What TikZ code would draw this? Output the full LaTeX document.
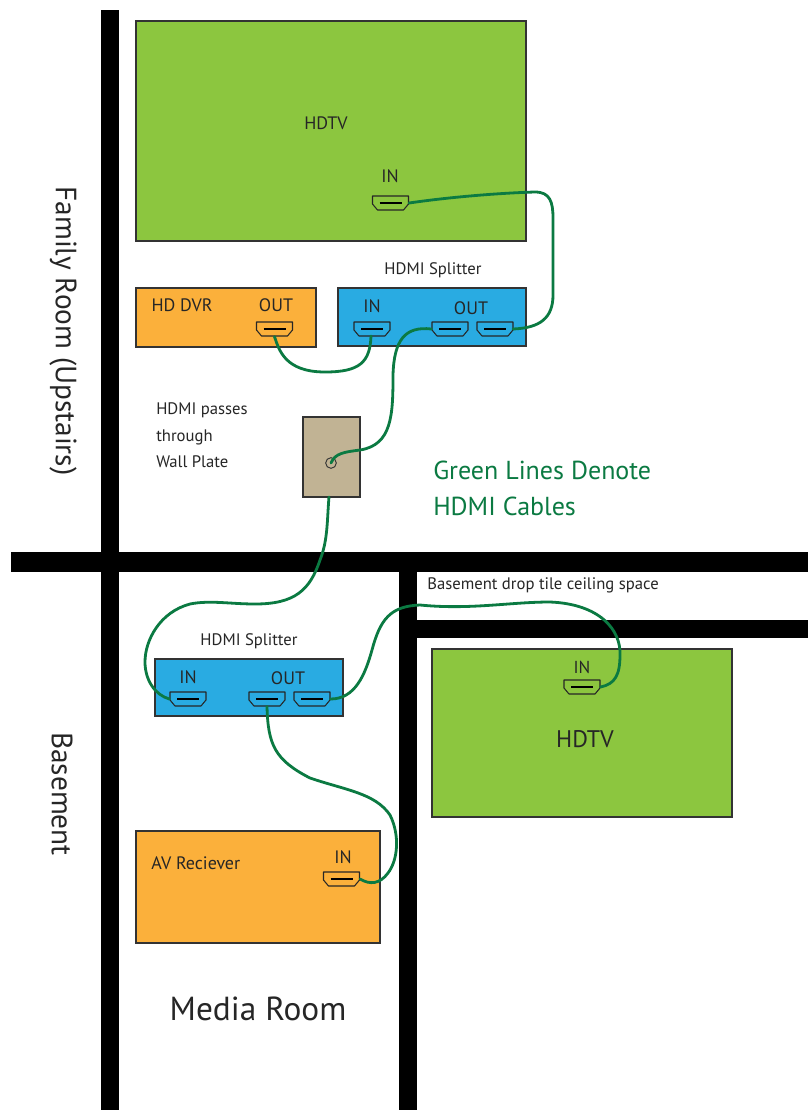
\documentclass[tikz,border=0pt]{standalone}
\usepackage{fontspec}
\setmainfont{PT Sans}
\definecolor{tvgreen}{HTML}{8CC63F}
\definecolor{dvrorange}{HTML}{FBB03B}
\definecolor{splitblue}{HTML}{29ABE2}
\definecolor{plate}{HTML}{C1B394}
\definecolor{cable}{HTML}{0B7A42}
\definecolor{edge}{HTML}{333333}
\tikzset{
  devbox/.style={draw=edge,line width=2pt,inner sep=0pt},
  wall/.style={fill=black,draw=none},
  cablewire/.style={draw=cable,line width=2.1pt,line cap=round},
  portbox/.style={inner sep=0pt,minimum width=27.5pt,minimum height=11pt},
  portline/.style={draw=black!85,line width=0.8pt,line join=round},
  slot/.style={draw=black,line width=1.3pt},
  txt/.style={inner sep=0pt,text=black!85},
}
\newcommand{\hdmiport}[3]{%
  \node[portbox] (#1) at (#2,#3) {};
  \draw[portline,shift={(#1.center)}] (-18,-7) -- (18,-7) -- (18,1) -- (13,7) -- (-13,7) -- (-18,1) -- cycle;
  \draw[slot,shift={(#1.center)}] (-11,0) -- (11,0);
}
\newcommand{\devbox}[6]{% name x1 y1 x2 y2 fill
  \path[devbox,fill=#6] (#2,#3) rectangle (#4,#5);
  \coordinate (#1) at (#2,#3);
}
\begin{document}
\begin{tikzpicture}[x=0.75pt,y=-0.75pt]
\useasboundingbox (0,0) rectangle (808,1110);
\fill[white] (0,0) rectangle (808,1110);
% walls
\fill[wall] (101,10) rectangle (119,1110);
\fill[wall] (11,552) rectangle (808,572);
\fill[wall] (399,572) rectangle (417,1110);
\fill[wall] (417,620) rectangle (808,638);
% devices
\devbox{tvtop}{136}{21}{526}{241}{tvgreen}
\devbox{dvr}{136}{288}{316}{347}{dvrorange}
\devbox{splittop}{338}{288}{526}{346}{splitblue}
\devbox{wallplate}{303}{417}{360}{497}{plate}
\devbox{splitlow}{155}{659}{343}{716}{splitblue}
\devbox{tvlow}{432}{649}{732}{817}{tvgreen}
\devbox{avr}{136}{831}{380}{943}{dvrorange}
\node[draw=black!80,line width=0.7pt,fill=plate,circle,minimum size=8pt,inner sep=0pt] (socket) at (331,463) {};
% ports
\hdmiport{ptv}{390.5}{203}
\hdmiport{pdvr}{274.5}{329}
\hdmiport{psin}{372}{329}
\hdmiport{psa}{450}{329}
\hdmiport{psb}{495}{329}
\hdmiport{plin}{188}{699}
\hdmiport{pla}{267}{699}
\hdmiport{plb}{312}{699}
\hdmiport{ptvl}{582}{687}
\hdmiport{pav}{341.5}{879}
% cables
\draw[cablewire] (ptv.east) .. controls (450,197) and (500,193) .. (535,192) .. controls (550,192) and (553,202) .. (553,218) -- (553,295) .. controls (553,318) and (540,328) .. (513,329);
\draw[cablewire] (pdvr.south) .. controls (279,350) and (285,372) .. (325,372) .. controls (360,372) and (370,362) .. (371,336);
\draw[cablewire] (psa.west) .. controls (405,326) and (394,340) .. (393,375) .. controls (393,415) and (392,445) .. (360,450) .. controls (345,452) and (335,453) .. (socket.center);
\draw[cablewire] (wallplate |- 0,497) ++(26,0) .. controls (327,520) and (328,540) .. (320,560) .. controls (310,590) and (295,604) .. (255,604) .. controls (230,604) and (210,600) .. (190,604) .. controls (160,612) and (145,640) .. (145,662) .. controls (145,680) and (155,695) .. (plin.west);
\draw[cablewire] (plb.east) .. controls (355,699) and (365,675) .. (372,650) .. controls (380,620) and (390,606) .. (420,605) .. controls (470,610) and (510,602) .. (550,602) .. controls (600,604) and (621,630) .. (620,655) .. controls (620,675) and (615,684) .. (ptvl.east);
\draw[cablewire] (pla.south) .. controls (268,745) and (275,760) .. (310,778) .. controls (345,790) and (375,793) .. (390,815) .. controls (400,835) and (398,860) .. (388,873) .. controls (380,884) and (370,885) .. (pav.east);
% labels
\node[txt,font=\fontsize{13.5pt}{16pt}\selectfont] (t1) at (326,123) {HDTV};
\node[txt,font=\fontsize{13.5pt}{16pt}\selectfont] (t2) at (390,176) {IN};
\node[txt,font=\fontsize{12.5pt}{15pt}\selectfont] (t3) at (433,270) {HDMI Splitter};
\node[txt,font=\fontsize{13.5pt}{16pt}\selectfont] (t4) at (182,305) {HD DVR};
\node[txt,font=\fontsize{13.5pt}{16pt}\selectfont] (t5) at (276,305) {OUT};
\node[txt,font=\fontsize{13.5pt}{16pt}\selectfont] (t6) at (372,306) {IN};
\node[txt,font=\fontsize{13.5pt}{16pt}\selectfont] (t7) at (471,308) {OUT};
\node[txt,align=left,font=\fontsize{12.5pt}{20.2pt}\selectfont,anchor=north west] (t8) at (156,402) {HDMI passes\\through\\Wall Plate};
\node[text=cable,inner sep=0pt,align=left,font=\fontsize{19.5pt}{26.5pt}\selectfont,anchor=north west] (t9) at (433,461) {Green Lines Denote\\HDMI Cables};
\node[txt,font=\fontsize{12.5pt}{15pt}\selectfont,anchor=west] (t10) at (427,585) {Basement drop tile ceiling space};
\node[txt,font=\fontsize{12.5pt}{15pt}\selectfont] (t11) at (249,641) {HDMI Splitter};
\node[txt,font=\fontsize{13.5pt}{16pt}\selectfont] (t12) at (188,677) {IN};
\node[txt,font=\fontsize{13.5pt}{16pt}\selectfont] (t13) at (288,678) {OUT};
\node[txt,font=\fontsize{13pt}{16pt}\selectfont] (t14) at (582,667) {IN};
\node[txt,font=\fontsize{18pt}{22pt}\selectfont] (t15) at (585,739) {HDTV};
\node[txt,font=\fontsize{13.5pt}{16pt}\selectfont,anchor=west] (t16) at (151,863) {AV Reciever};
\node[txt,font=\fontsize{13.5pt}{16pt}\selectfont] (t17) at (343,857) {IN};
\node[txt,font=\fontsize{25pt}{30pt}\selectfont] (t18) at (258,1009) {Media Room};
\node[txt,font=\fontsize{22pt}{26pt}\selectfont,rotate=-90] (t19) at (63,331) {Family Room (Upstairs)};
\node[txt,font=\fontsize{22pt}{26pt}\selectfont,rotate=-90] (t20) at (62,794) {Basement};
\end{tikzpicture}
\end{document}
